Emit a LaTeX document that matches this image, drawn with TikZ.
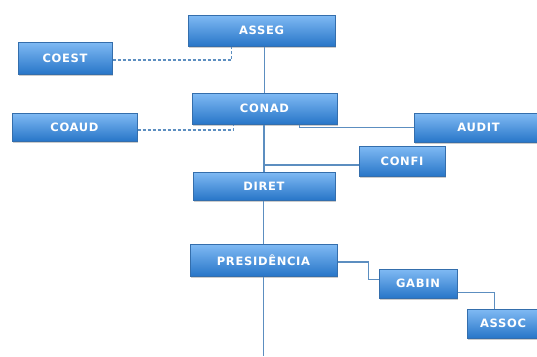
\documentclass[tikz,border=0pt]{standalone}
\usepackage{fontspec}
\setsansfont[LetterSpace=6]{DejaVu Sans}
\usetikzlibrary{shadows}
\definecolor{boxtop}{RGB}{128,186,244}
\definecolor{boxmid}{RGB}{84,156,232}
\definecolor{boxbot}{RGB}{40,118,200}
\definecolor{boxedge}{RGB}{52,110,172}
\definecolor{linkcol}{RGB}{92,142,192}
\begin{document}
\begin{tikzpicture}[x=1pt,y=-1pt,
  unit/.style={draw=boxedge, line width=1pt, top color=boxtop, middle color=boxmid, bottom color=boxbot,
    drop shadow={shadow xshift=1pt, shadow yshift=-2pt, opacity=0.4},
    text=white, font=\sffamily\bfseries\fontsize{11.5}{13}\selectfont,
    inner sep=0pt, minimum width=#1},
  unit/.default=140pt,
  link/.style={draw=linkcol, line width=1.8pt},
  dotlink/.style={link, line width=1.5pt, dash pattern=on 3pt off 2pt}]
\clip (0,0) rectangle (537,356);
\fill[white] (0,0) rectangle (537,356);
\coordinate (base) at (265,356);
\node[unit=147pt, minimum height=31pt] (asseg) at (261.5,30.5) {ASSEG};
\node[unit=94pt, minimum height=32pt] (coest) at (65,58) {COEST};
\node[unit=145pt, minimum height=31pt] (conad) at (264.5,108.5) {CONAD};
\node[unit=125pt, minimum height=28pt] (coaud) at (74.5,127) {COAUD};
\node[unit=129pt, minimum height=29pt] (audit) at (478.5,127.5) {AUDIT};
\node[unit=86pt, minimum height=30pt] (confi) at (402,161) {CONFI};
\node[unit=142pt, minimum height=28pt] (diret) at (264,186) {DIRET};
\node[unit=147pt, minimum height=32pt] (presid) at (263.5,260) {PRESIDÊNCIA};
\node[unit=78pt, minimum height=29pt] (gabin) at (418,283.5) {GABIN};
\node[unit=72pt, minimum height=29pt] (assoc) at (503,323.5) {ASSOC};
\coordinate (confiin) at ([yshift=-4pt]confi.west);
\draw[link] (conad.north |- asseg.south) -- (conad.north);
\draw[link] (diret.north |- conad.south) -- (diret.north);
\draw[link] (presid.north |- diret.south) -- (presid.north);
\draw[link] (presid.south) -- (presid.south |- base);
\draw[dotlink] ([yshift=-2pt]coest.east) -| ([xshift=44pt]asseg.south west);
\draw[dotlink] ([yshift=-3pt]coaud.east) -| ([xshift=42pt]conad.south west);
\draw[link] ([xshift=108pt]conad.south west) |- (audit.west);
\draw[link] (confiin -| diret.north) -- (confiin);
\draw[link] ([yshift=-2pt]presid.east) -- ++(31,0) |- ([yshift=4pt]gabin.west);
\draw[link] ([yshift=-9pt]gabin.east) -| ([xshift=28pt]assoc.north west);
\end{tikzpicture}
\end{document}
